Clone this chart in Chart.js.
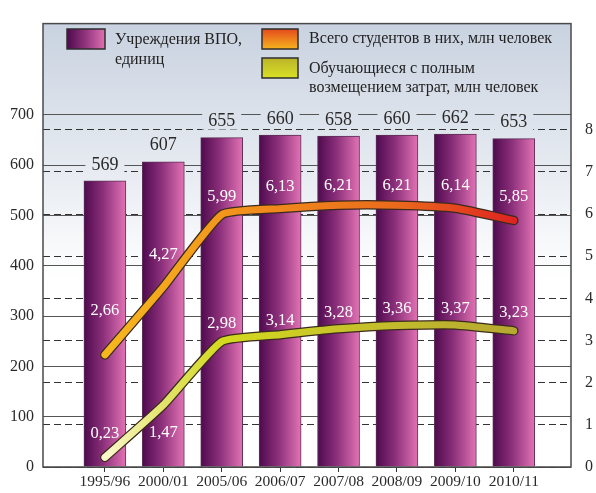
<!DOCTYPE html>
<html>
<head>
<meta charset="utf-8">
<script src="https://cdn.jsdelivr.net/npm/chart.js@4/dist/chart.umd.min.js"></script>
<style>
  html, body { margin: 0; padding: 0; background: #fff; }
  #wrap { width: 596px; height: 493px; }
</style>
</head>
<body>
<div id="wrap"><canvas id="chart" width="596" height="493"></canvas></div>
<script>
// data
const categories = ['1995/96', '2000/01', '2005/06', '2006/07', '2007/08', '2008/09', '2009/10', '2010/11'];
const institutions = [569, 607, 655, 660, 658, 660, 662, 653];      // учреждения ВПО, единиц
const students = [2.66, 4.27, 5.99, 6.13, 6.21, 6.21, 6.14, 5.85]; // всего студентов, млн
const paidStudents = [0.23, 1.47, 2.98, 3.14, 3.28, 3.36, 3.37, 3.23]; // с полным возмещением, млн
const leftTicks = [0, 100, 200, 300, 400, 500, 600, 700];
const rightTicks = [0, 1, 2, 3, 4, 5, 6, 7, 8];

const legendLabels = {
  bars: ['Учреждения ВПО,', 'единиц'],
  students: ['Всего студентов в них, млн человек'],
  paid: ['Обучающиеся с полным', 'возмещением затрат, млн человек']
};

// how far above the point each line value sits (px), negative = below
const studentsLabelOff = [44, 32, 18, 22, 20, 20, 23, 24];
const paidLabelOff = [24, -28, 18, 14, 16, 17, 16, 18];

const FONT = '"Liberation Serif", "DejaVu Serif", serif';

let bgGrad = null;

function pts(arr) {
  return arr.map((v, i) => ({ x: i, y: v }));
}

// horizontal gradient across the plot with stops at the category positions
function lineGradient(chart, stops) {
  const { ctx, chartArea, scales } = chart;
  if (!chartArea || !scales.x) return stops[0][1];
  const g = ctx.createLinearGradient(chartArea.left, 0, chartArea.right, 0);
  const w = chartArea.right - chartArea.left;
  stops.forEach(([idx, col]) => {
    const f = (scales.x.getPixelForValue(idx) - chartArea.left) / w;
    g.addColorStop(Math.min(1, Math.max(0, f)), col);
  });
  return g;
}

const studentsColors = [[0, '#f6b81e'], [2, '#f2961c'], [5, '#ea6a1c'], [7, '#de2420']];
const paidColors = [[0, '#fbf8cc'], [1, '#e2e46a'], [2, '#d3da1e'], [4, '#c8c42a'], [7, '#b6a830']];

const backgroundPlugin = {
  id: 'plotBg',
  beforeDraw(chart) {
    const { ctx, chartArea: a } = chart;
    bgGrad = ctx.createLinearGradient(0, a.top, 0, a.bottom);
    bgGrad.addColorStop(0, '#c9d2e0');
    bgGrad.addColorStop(0.3, '#e4e9f0');
    bgGrad.addColorStop(0.58, '#ffffff');
    bgGrad.addColorStop(1, '#ffffff');
    ctx.save();
    ctx.fillStyle = bgGrad;
    ctx.fillRect(a.left, a.top, a.right - a.left, a.bottom - a.top);
    ctx.restore();
  }
};

const labelsPlugin = {
  id: 'valueLabels',
  afterDatasetsDraw(chart) {
    const { ctx, scales } = chart;
    const { x, y, y2 } = scales;
    ctx.save();
    ctx.textAlign = 'center';
    ctx.textBaseline = 'middle';

    // bar values, on a patch of background so the grid line breaks
    ctx.font = '18px ' + FONT;
    institutions.forEach((v, i) => {
      const px = x.getPixelForValue(i);
      const py = y.getPixelForValue(v) - 17;
      const t = String(v);
      const tw = ctx.measureText(t).width;
      ctx.fillStyle = bgGrad || '#fff';
      ctx.fillRect(px - tw / 2 - 6, py - 9, tw + 12, 18);
      ctx.fillStyle = '#2a2a2a';
      ctx.fillText(t, px, py + 1);
    });

    // line values, white
    ctx.font = '16.5px ' + FONT;
    ctx.fillStyle = '#ffffff';
    students.forEach((v, i) => {
      ctx.fillText(v.toFixed(2).replace('.', ','), x.getPixelForValue(i), y2.getPixelForValue(v) - studentsLabelOff[i]);
    });
    paidStudents.forEach((v, i) => {
      ctx.fillText(v.toFixed(2).replace('.', ','), x.getPixelForValue(i), y2.getPixelForValue(v) - paidLabelOff[i]);
    });
    ctx.restore();
  },
  afterDraw(chart) {
    const { ctx, chartArea: a } = chart;
    ctx.save();
    // frame
    ctx.strokeStyle = '#4a4a4a';
    ctx.lineWidth = 1.5;
    ctx.strokeRect(a.left, a.top, a.right - a.left, a.bottom - a.top);

    // legend
    const swatch = (x0, y0, w, h, fill) => {
      ctx.fillStyle = fill;
      ctx.fillRect(x0, y0, w, h);
      ctx.strokeStyle = '#2e2e2e';
      ctx.lineWidth = 1.5;
      ctx.strokeRect(x0, y0, w, h);
    };
    let g = ctx.createLinearGradient(67, 0, 105, 0);
    g.addColorStop(0, '#4e0a4e');
    g.addColorStop(0.5, '#93357f');
    g.addColorStop(1, '#e070b2');
    swatch(67, 29, 38, 20, g);
    g = ctx.createLinearGradient(0, 29, 0, 49);
    g.addColorStop(0, '#e44a1c');
    g.addColorStop(1, '#f6b41e');
    swatch(262, 29, 36, 20, g);
    g = ctx.createLinearGradient(0, 58, 0, 78);
    g.addColorStop(0, '#bcb42a');
    g.addColorStop(1, '#d8e024');
    swatch(262, 58, 36, 20, g);

    ctx.fillStyle = '#222';
    ctx.font = '16px ' + FONT;
    ctx.textAlign = 'left';
    ctx.textBaseline = 'middle';
    ctx.fillText(legendLabels.bars[0], 115, 40);
    ctx.fillText(legendLabels.bars[1], 115, 60);
    ctx.fillText(legendLabels.students[0], 309, 39);
    ctx.fillText(legendLabels.paid[0], 309, 69);
    ctx.fillText(legendLabels.paid[1], 309, 88);
    ctx.restore();
  }
};

const lineBase = {
  type: 'line',
  yAxisID: 'y2',
  borderCapStyle: 'round',
  borderJoinStyle: 'round',
  tension: 0.15,
  pointRadius: 0
};

const chart = new Chart(document.getElementById('chart').getContext('2d'), {
  type: 'bar',
  data: {
    datasets: [
      Object.assign({}, lineBase, {
        label: legendLabels.students.join(' '),
        data: pts(students),
        borderColor: (c) => lineGradient(c.chart, studentsColors),
        borderWidth: 7,
        order: 1
      }),
      Object.assign({}, lineBase, {
        label: legendLabels.paid.join(' '),
        data: pts(paidStudents),
        borderColor: (c) => lineGradient(c.chart, paidColors),
        borderWidth: 7,
        order: 1
      }),
      // dark outlines under the lines
      Object.assign({}, lineBase, {
        data: pts(students),
        borderColor: '#3b2a1e',
        borderWidth: 9.5,
        order: 2
      }),
      Object.assign({}, lineBase, {
        data: pts(paidStudents),
        borderColor: '#3b2a1e',
        borderWidth: 9.5,
        order: 2
      }),
      {
        type: 'bar',
        label: legendLabels.bars.join(' '),
        data: pts(institutions),
        yAxisID: 'y',
        barThickness: 42,
        borderWidth: 1,
        borderColor: '#5b2f55',
        borderSkipped: 'bottom',
        backgroundColor: (c) => {
          const { chart } = c;
          if (!chart.chartArea || !chart.scales.x) return '#8a2a78';
          const px = chart.scales.x.getPixelForValue(c.dataIndex);
          const g = chart.ctx.createLinearGradient(px - 21, 0, px + 21, 0);
          g.addColorStop(0, '#4e0a4e');
          g.addColorStop(0.45, '#8b2f7a');
          g.addColorStop(1, '#e273b4');
          return g;
        },
        order: 3
      }
    ]
  },
  options: {
    responsive: false,
    animation: false,
    layout: { padding: { top: 12, left: 0, right: 0, bottom: 0 } },
    plugins: {
      legend: { display: false },
      tooltip: { enabled: false }
    },
    scales: {
      x: {
        type: 'linear',
        offset: false,
        min: -1.06,
        max: 7.98,
        afterBuildTicks: (s) => { s.ticks = categories.map((_, i) => ({ value: i })); },
        afterFit: (s) => { s.height = 26; },
        ticks: {
          callback: (v) => categories[v] || '',
          font: { family: FONT, size: 15.5 },
          color: '#2a2a2a',
          padding: 1,
          maxRotation: 0,
          autoSkip: false
        },
        grid: { drawOnChartArea: false, drawTicks: true, tickLength: 5, color: '#333', offset: false },
        border: { display: false }
      },
      y: {
        position: 'left',
        min: 0,
        max: 881.6,
        afterBuildTicks: (s) => { s.ticks = leftTicks.map((v) => ({ value: v })); },
        afterFit: (s) => { s.width = 43; },
        ticks: {
          font: { family: FONT, size: 16 },
          color: '#2a2a2a',
          padding: 9
        },
        grid: { color: '#555', lineWidth: 1, drawTicks: false },
        border: { display: false }
      },
      y2: {
        position: 'right',
        min: 0,
        max: 10.52,
        afterBuildTicks: (s) => { s.ticks = rightTicks.map((v) => ({ value: v })); },
        afterFit: (s) => { s.width = 25; },
        ticks: {
          font: { family: FONT, size: 16 },
          color: '#2a2a2a',
          padding: 14
        },
        grid: { color: '#333', lineWidth: 1, drawTicks: false },
        border: { display: false, dash: [7, 4] }
      }
    }
  },
  plugins: [backgroundPlugin, labelsPlugin]
});
</script>
</body>
</html>
